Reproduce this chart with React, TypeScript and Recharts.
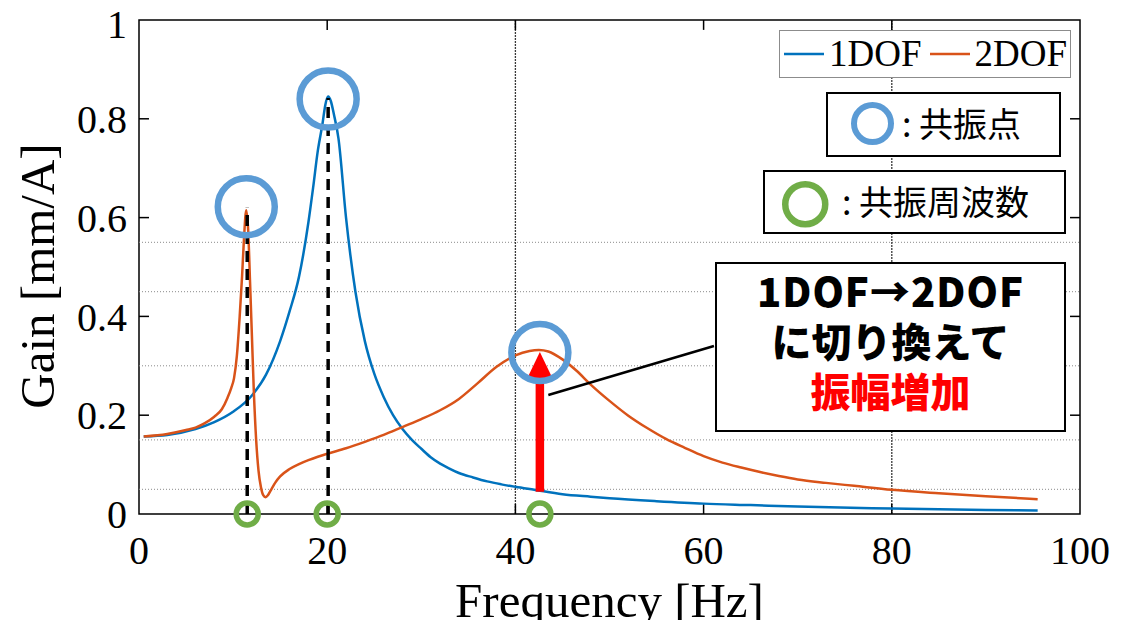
import React from 'react';
import {
  LineChart,
  Line,
  XAxis,
  YAxis,
  ReferenceLine,
  ReferenceDot,
  ReferenceArea,
  Legend,
  Label,
} from 'recharts';

// ---- data ----
const freq1DOF = [0.5, 3, 6, 8, 10, 12, 13.5, 15, 16, 17, 18, 18.5, 19, 19.5, 19.8, 20.1, 20.4, 20.7, 21.2, 22, 23, 24, 25, 26, 27, 28, 29, 30, 31, 32, 33, 34, 35.5, 37, 38.5, 40, 42, 45, 48, 50, 55, 60, 65, 70, 80, 90, 95.5];
const gain1DOF = [0.157, 0.16, 0.172, 0.186, 0.207, 0.24, 0.282, 0.35, 0.41, 0.48, 0.59, 0.66, 0.735, 0.79, 0.828, 0.845, 0.835, 0.81, 0.76, 0.6, 0.45, 0.35, 0.284, 0.237, 0.2, 0.172, 0.15, 0.132, 0.115, 0.102, 0.092, 0.083, 0.074, 0.066, 0.06, 0.055, 0.049, 0.04, 0.035, 0.032, 0.026, 0.021, 0.018, 0.015, 0.011, 0.008, 0.007];

const freq2DOF = [0.5, 3, 5, 6, 7, 8, 8.8, 9.4, 9.8, 10.1, 10.4, 10.7, 10.95, 11.15, 11.4, 11.6, 11.8, 12.0, 12.2, 12.45, 12.7, 12.95, 13.2, 13.45, 13.7, 14.0, 14.5, 15, 16, 17, 18, 19, 20, 22, 24, 26, 28, 30, 32, 34, 36, 38, 40, 41.5, 42.5, 43.5, 45, 46.5, 48, 50, 52, 54, 56, 58, 60, 62, 64, 66, 68, 70, 73, 76, 80, 85, 90, 95.5];
const gain2DOF = [0.157, 0.162, 0.17, 0.175, 0.184, 0.197, 0.212, 0.235, 0.255, 0.275, 0.32, 0.4, 0.48, 0.555, 0.615, 0.575, 0.47, 0.36, 0.25, 0.15, 0.088, 0.055, 0.038, 0.034, 0.038, 0.048, 0.064, 0.076, 0.091, 0.101, 0.109, 0.116, 0.122, 0.133, 0.146, 0.16, 0.176, 0.192, 0.21, 0.233, 0.265, 0.298, 0.321, 0.33, 0.332, 0.329, 0.313, 0.29, 0.262, 0.229, 0.199, 0.174, 0.152, 0.134, 0.117, 0.104, 0.094, 0.085, 0.077, 0.07, 0.063, 0.057, 0.049, 0.042, 0.036, 0.03];

const xTicks = [0, 20, 40, 60, 80, 100];
const yTicks = [0, 0.2, 0.4, 0.6, 0.8, 1];
const innerXTicks = [20, 40, 60, 80];
const innerYTicks = [0.2, 0.4, 0.6, 0.8];
const hGridValues = [0.05, 0.15, 0.3, 0.45, 0.55];
const vGridValues = [40, 80];

// annotations (data coordinates)
const resonancePointF = [11.4, 20.1, 42.6];
const resonancePointG = [0.622, 0.84, 0.327];
const resonanceFreqs = [11.5, 20.0, 42.6];
const dashedF = [11.5, 20.1];
const dashedTop = [0.62, 0.842];
const arrowF = 42.6;
const arrowFrom = 0.045;
const arrowBase = 0.278;
const arrowTip = 0.328;
const connectorF = [43.5, 61.1];
const connectorG = [0.241, 0.34];

const seriesNames = ['1DOF', '2DOF'];
const seriesColors = ['#0072BD', '#D95319'];

const data1 = freq1DOF.map((f, i) => ({ f, g: gain1DOF[i] }));
const data2 = freq2DOF.map((f, i) => ({ f, g: gain2DOF[i] }));

const SERIF = '"Liberation Serif", "Times New Roman", serif';
const CJK = '"Noto Sans CJK JP", "Noto Sans", sans-serif';

const TICK_LEN_Y = 0.02; // ~10px in y units
const TICK_LEN_X = 1.06; // ~10px in x units

const renderLegend = () => (
  <div
    style={{
      boxSizing: 'border-box',
      width: 292,
      height: 48,
      border: '1px solid #8c8c8c',
      background: '#fff',
      display: 'flex',
      alignItems: 'center',
      paddingLeft: 4,
      fontFamily: SERIF,
      fontSize: 37,
      color: '#000',
      lineHeight: '46px',
      whiteSpace: 'nowrap',
    }}
  >
    {seriesNames.map((n, i) => (
      <span key={n} style={{ display: 'flex', alignItems: 'center', marginRight: i === 0 ? 8 : 0 }}>
        <svg width={40} height={6} style={{ marginRight: 5 }}>
          <line x1={0} y1={3} x2={40} y2={3} stroke={seriesColors[i]} strokeWidth={2.5} />
        </svg>
        <span>{n}</span>
      </span>
    ))}
  </div>
);

const Ring = ({ r, color, sw }: { r: number; color: string; sw: number }) => (
  <svg width={2 * r + sw + 2} height={2 * r + sw + 2} style={{ display: 'block' }}>
    <circle cx={r + sw / 2 + 1} cy={r + sw / 2 + 1} r={r} fill="none" stroke={color} strokeWidth={sw} />
  </svg>
);

export default function App() {
  return (
    <div style={{ position: 'absolute', left: 0, top: 0, width: 1124, height: 620, background: '#fff' }}>
      <LineChart width={1124} height={620} margin={{ top: 20, right: 44, bottom: 0, left: 0 }}>
        <XAxis
          dataKey="f"
          type="number"
          domain={[0, 100]}
          ticks={xTicks}
          axisLine={false}
          tickLine={false}
          tickSize={0}
          tickMargin={22}
          height={106}
          tick={{ fontFamily: SERIF, fontSize: 40, fill: '#000' }}
        >
          <Label
            content={(props: any) => {
              const vb = props.viewBox || { x: 139, y: 514, width: 941, height: 106 };
              return (
                <text x={vb.x + vb.width / 2} y={617} textAnchor="middle" fontFamily={SERIF} fontSize={49} fill="#000">
                  Frequency [Hz]
                </text>
              );
            }}
          />
        </XAxis>
        <YAxis
          type="number"
          domain={[0, 1]}
          ticks={yTicks}
          width={139}
          axisLine={false}
          tickLine={false}
          tickSize={0}
          tickMargin={12}
          tickFormatter={(v: number) => String(v)}
          tick={{ fontFamily: SERIF, fontSize: 40, fill: '#000' }}
        >
          <Label
            content={(props: any) => {
              const vb = props.viewBox || { x: 0, y: 20, width: 139, height: 494 };
              const cy = vb.y + vb.height / 2 + 9;
              return (
                <text
                  x={0}
                  y={0}
                  transform={`translate(54, ${cy}) rotate(-90)`}
                  textAnchor="middle"
                  fontFamily={SERIF}
                  fontSize={49}
                  fill="#000"
                >
                  Gain [mm/A]
                </text>
              );
            }}
          />
        </YAxis>

        {hGridValues.map((v) => (
          <ReferenceLine key={'h' + v} y={v} stroke="#8a8a8a" strokeWidth={1} strokeDasharray="1 2" />
        ))}
        {vGridValues.map((v) => (
          <ReferenceLine key={'v' + v} x={v} stroke="#3a3a3a" strokeWidth={1.3} strokeDasharray="2 1" />
        ))}

        <ReferenceArea x1={0} x2={100} y1={0} y2={1} fill="none" stroke="#000" strokeWidth={1.5} />

        {innerXTicks.map((v) => (
          <ReferenceLine key={'bt' + v} segment={[{ x: v, y: 0 }, { x: v, y: TICK_LEN_Y }]} stroke="#000" strokeWidth={1.5} />
        ))}
        {innerXTicks.map((v) => (
          <ReferenceLine key={'tt' + v} segment={[{ x: v, y: 1 }, { x: v, y: 1 - TICK_LEN_Y }]} stroke="#000" strokeWidth={1.5} />
        ))}
        {innerYTicks.map((v) => (
          <ReferenceLine key={'lt' + v} segment={[{ x: 0, y: v }, { x: TICK_LEN_X, y: v }]} stroke="#000" strokeWidth={1.5} />
        ))}
        {innerYTicks.map((v) => (
          <ReferenceLine key={'rt' + v} segment={[{ x: 100, y: v }, { x: 100 - TICK_LEN_X, y: v }]} stroke="#000" strokeWidth={1.5} />
        ))}

        <Line
          data={data1}
          dataKey="g"
          name={seriesNames[0]}
          type="monotone"
          stroke={seriesColors[0]}
          strokeWidth={2.5}
          dot={false}
          isAnimationActive={false}
        />
        <Line
          data={data2}
          dataKey="g"
          name={seriesNames[1]}
          type="monotone"
          stroke={seriesColors[1]}
          strokeWidth={2.5}
          dot={false}
          isAnimationActive={false}
        />

        {dashedF.map((f, i) => (
          <ReferenceLine
            key={'d' + f}
            segment={[{ x: f, y: 0 }, { x: f, y: dashedTop[i] }]}
            stroke="#000"
            strokeWidth={3.5}
            strokeDasharray="11 7"
          />
        ))}

        <ReferenceLine
          segment={[{ x: connectorF[0], y: connectorG[0] }, { x: connectorF[1], y: connectorG[1] }]}
          stroke="#000"
          strokeWidth={2.5}
        />

        <ReferenceLine
          segment={[{ x: arrowF, y: arrowFrom }, { x: arrowF, y: arrowBase }]}
          stroke="#FF0000"
          strokeWidth={8.5}
        />
        <ReferenceDot
          x={arrowF}
          y={arrowTip}
          r={1}
          shape={(p: any) => (
            <polygon
              points={`${p.cx},${p.cy} ${p.cx - 12.5},${p.cy + 26} ${p.cx + 12.5},${p.cy + 26}`}
              fill="#FF0000"
            />
          )}
        />

        {resonancePointF.map((f, i) => (
          <ReferenceDot
            key={'rp' + f}
            x={f}
            y={resonancePointG[i]}
            r={28.5}
            fill="none"
            stroke="#5B9BD5"
            strokeWidth={6.5}
          />
        ))}
        {resonanceFreqs.map((f) => (
          <ReferenceDot
            key={'rf' + f}
            x={f}
            y={0}
            r={11}
            fill="none"
            stroke="#70AD47"
            strokeWidth={5.5}
            ifOverflow="visible"
          />
        ))}

        <Legend
          layout="vertical"
          align="center"
          verticalAlign="middle"
          content={renderLegend}
          wrapperStyle={{ position: 'absolute', left: 779, top: 30, width: 292, height: 48 }}
        />
      </LineChart>

      {/* ○ : 共振点 */}
      <div
        style={{
          position: 'absolute',
          left: 826,
          top: 92,
          width: 235,
          height: 65,
          boxSizing: 'border-box',
          border: '2px solid #000',
          background: '#fff',
        }}
      >
        <div style={{ position: 'absolute', left: 22, top: 7 }}>
          <Ring r={18.5} color="#5B9BD5" sw={6} />
        </div>
        <div
          style={{
            position: 'absolute',
            left: 74,
            top: 6,
            fontFamily: CJK,
            fontSize: 34,
            lineHeight: '46px',
            color: '#000',
            whiteSpace: 'nowrap',
          }}
        >
          : 共振点
        </div>
      </div>

      {/* ○ : 共振周波数 */}
      <div
        style={{
          position: 'absolute',
          left: 763,
          top: 170,
          width: 303,
          height: 64,
          boxSizing: 'border-box',
          border: '2px solid #000',
          background: '#fff',
        }}
      >
        <div style={{ position: 'absolute', left: 16, top: 8 }}>
          <Ring r={20} color="#70AD47" sw={6.5} />
        </div>
        <div
          style={{
            position: 'absolute',
            left: 77,
            top: 6,
            fontFamily: CJK,
            fontSize: 34,
            lineHeight: '46px',
            color: '#000',
            whiteSpace: 'nowrap',
          }}
        >
          : 共振周波数
        </div>
      </div>

      {/* annotation box */}
      <div
        style={{
          position: 'absolute',
          left: 715,
          top: 262,
          width: 351,
          height: 170,
          boxSizing: 'border-box',
          border: '2.5px solid #000',
          background: '#fff',
          textAlign: 'center',
          fontFamily: CJK,
          fontWeight: 900,
          fontSize: 40,
          lineHeight: '50px',
          paddingTop: 1,
          color: '#000',
          whiteSpace: 'nowrap',
        }}
      >
        <div style={{ letterSpacing: 1 }}>1DOF→2DOF</div>
        <div>に切り換えて</div>
        <div style={{ color: '#FF0000' }}>振幅増加</div>
      </div>
    </div>
  );
}
